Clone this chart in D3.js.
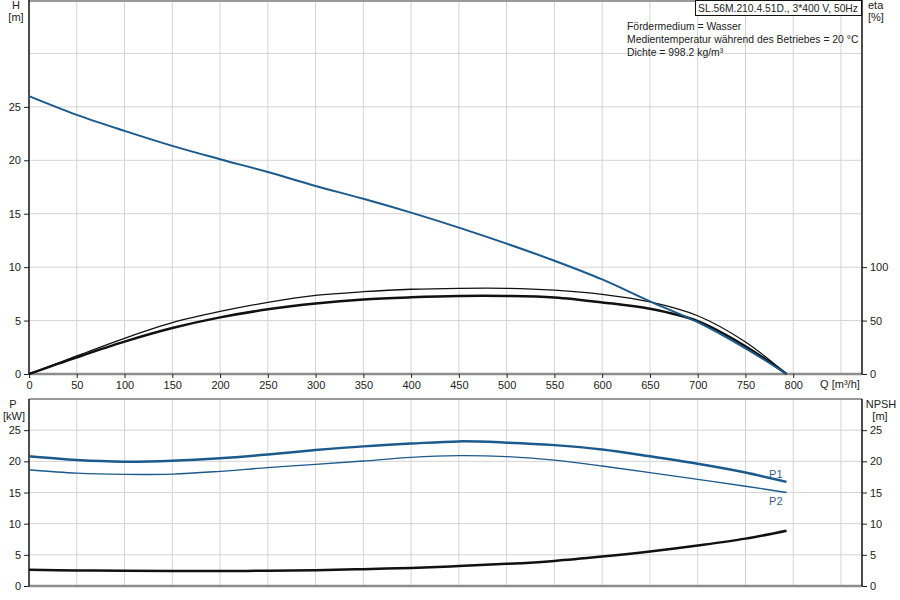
<!DOCTYPE html>
<html>
<head>
<meta charset="utf-8">
<script src="https://cdn.jsdelivr.net/npm/d3@7"></script>
<style>
  body { margin: 0; background: #fff; }
  svg { display: block; font-family: "Liberation Sans", Arial, sans-serif; }
  .grid line { stroke: #d4d4d4; stroke-width: 1; }
  .lbl { font-size: 11px; fill: #222; }
</style>
</head>
<body>
<svg id="chart"></svg>
<script>
// flow rate, m³/h
const flow = [0, 50, 100, 150, 200, 250, 300, 350, 400, 450, 500, 550, 600, 650, 700, 750, 793];
// head H [m]
const head = [26.0, 24.25, 22.75, 21.35, 20.1, 18.9, 17.6, 16.4, 15.1, 13.7, 12.2, 10.6, 8.85, 6.8, 4.85, 2.4, 0];
// efficiencies eta [%]
const etaPump = [0, 16.9, 33.4, 48, 58.5, 67, 73.5, 77, 79.3, 80.2, 80.2, 78.4, 74.5, 67.5, 54.5, 30, 0];
const etaTotal = [0, 15.6, 30.3, 43, 53, 60.5, 66, 69.8, 71.8, 73, 73, 71.6, 67, 61, 49.5, 26, 0];
// power P [kW]
const p1 = [20.8, 20.2, 19.95, 20.1, 20.5, 21.1, 21.8, 22.4, 22.85, 23.2, 23.0, 22.6, 21.9, 20.8, 19.6, 18.2, 16.7];
const p2 = [18.65, 18.1, 17.9, 17.95, 18.4, 19.0, 19.5, 20.05, 20.65, 20.9, 20.75, 20.2, 19.25, 18.2, 17.1, 16.0, 15.0];
// NPSH [m]
const npsh = [2.6, 2.5, 2.45, 2.42, 2.42, 2.44, 2.52, 2.7, 2.9, 3.2, 3.55, 4.03, 4.73, 5.54, 6.5, 7.6, 8.87];

const xTicks = [0, 50, 100, 150, 200, 250, 300, 350, 400, 450, 500, 550, 600, 650, 700, 750, 800];
const xGrid = [50, 100, 150, 200, 250, 300, 350, 400, 450, 500, 550, 600, 650, 700, 750, 800, 850];
const hTicks = [0, 5, 10, 15, 20, 25];
const etaTicks = [0, 50, 100];
const pTicks = [0, 5, 10, 15, 20, 25];

const infoLines = [
  "Fördermedium = Wasser",
  "Medientemperatur während des Betriebes = 20 °C",
  "Dichte = 998.2 kg/m³"
];
const title = "SL.56M.210.4.51D., 3*400 V, 50Hz";

const width = 900;
const height = 600;
const blue = "#1b5a8c";

const svg = d3.select("#chart").attr("width", width).attr("height", height);

const left = 29;
const right = 862;
const x = d3.scaleLinear().domain([0, 872]).range([left, right]);

const top1 = { top: 0, bottom: 374 };
const top2 = { top: 399, bottom: 586 };

const yH = d3.scaleLinear().domain([0, 35]).range([top1.bottom, top1.top]);
const yEta = d3.scaleLinear().domain([0, 350]).range([top1.bottom, top1.top]);
const yP = d3.scaleLinear().domain([0, 30]).range([top2.bottom, top2.top]);

const line = (ys, vals) =>
  d3.line()
    .x((d, i) => x(flow[i]))
    .y((d) => ys(d))
    .curve(d3.curveCatmullRom.alpha(0.5))(vals);

// ---- grids
const drawGrid = (box, yScale, yGrid) => {
  const g = svg.append("g").attr("class", "grid");
  g.selectAll(".gx")
    .data(xGrid)
    .join("line")
    .attr("x1", (d) => x(d))
    .attr("x2", (d) => x(d))
    .attr("y1", box.top)
    .attr("y2", box.bottom);
  g.selectAll(".gy")
    .data(yGrid)
    .join("line")
    .attr("x1", left)
    .attr("x2", right)
    .attr("y1", (d) => yScale(d))
    .attr("y2", (d) => yScale(d));
};
drawGrid(top1, yH, [5, 10, 15, 20, 25, 30]);
drawGrid(top2, yP, [5, 10, 15, 20, 25]);

// frame lines (top and bottom, gray)
[top1.top + 1, top2.top].forEach((yy) => {
  svg.append("line")
    .attr("x1", left).attr("x2", right)
    .attr("y1", yy).attr("y2", yy)
    .attr("stroke", "#9a9a9a").attr("stroke-width", 2);
});
[top1.bottom, top2.bottom].forEach((yy) => {
  svg.append("line")
    .attr("x1", left).attr("x2", right)
    .attr("y1", yy).attr("y2", yy)
    .attr("stroke", "#8c8c8c").attr("stroke-width", 2.5);
});

// ---- axes
const styleAxis = (g) => {
  g.select(".domain").remove();
  g.selectAll(".tick line").attr("stroke", "#222");
  g.selectAll(".tick text").attr("class", "lbl").attr("fill", "#222").style("font-size", "11px");
};

svg.append("g")
  .attr("transform", `translate(0,${top1.bottom})`)
  .call(d3.axisBottom(x).tickValues(xTicks).tickSize(4).tickPadding(3).tickFormat(d3.format("d")))
  .call(styleAxis);

svg.append("g")
  .attr("transform", `translate(${left},0)`)
  .call(d3.axisLeft(yH).tickValues(hTicks).tickSize(5).tickPadding(3))
  .call(styleAxis);

svg.append("g")
  .attr("transform", `translate(${right},0)`)
  .call(d3.axisRight(yEta).tickValues(etaTicks).tickSize(5).tickPadding(3))
  .call(styleAxis);

svg.append("g")
  .attr("transform", `translate(${left},0)`)
  .call(d3.axisLeft(yP).tickValues(pTicks).tickSize(5).tickPadding(3))
  .call(styleAxis);

svg.append("g")
  .attr("transform", `translate(${right},0)`)
  .call(d3.axisRight(yP).tickValues(pTicks).tickSize(5).tickPadding(3))
  .call(styleAxis);

// vertical axis lines
[left, right].forEach((xx) => {
  [top1, top2].forEach((b) => {
    svg.append("line")
      .attr("x1", xx).attr("x2", xx)
      .attr("y1", b.top).attr("y2", b.bottom)
      .attr("stroke", "#111").attr("stroke-width", 1.5);
  });
});

// ---- curves
const curves = [
  { vals: etaPump, ys: yEta, color: "#111", w: 1.3 },
  { vals: etaTotal, ys: yEta, color: "#111", w: 2.5 },
  { vals: head, ys: yH, color: blue, w: 2 },
  { vals: p2, ys: yP, color: blue, w: 1.3 },
  { vals: p1, ys: yP, color: blue, w: 2.5 },
  { vals: npsh, ys: yP, color: "#111", w: 2.5 }
];
svg.selectAll(".curve")
  .data(curves)
  .join("path")
  .attr("class", "curve")
  .attr("fill", "none")
  .attr("stroke", (d) => d.color)
  .attr("stroke-width", (d) => d.w)
  .attr("d", (d) => line(d.ys, d.vals));

// curve labels
const last = flow.length - 1;
svg.append("text").attr("class", "lbl")
  .attr("x", x(flow[last]) - 4).attr("y", yP(p1[last]) - 4)
  .attr("text-anchor", "end").style("fill", "#3a5f8a").text("P1");
svg.append("text").attr("class", "lbl")
  .attr("x", x(flow[last]) - 4).attr("y", yP(p2[last]) + 12)
  .attr("text-anchor", "end").style("fill", "#3a5f8a").text("P2");

// ---- axis titles
const addText = (t, xx, yy, anchor) =>
  svg.append("text").attr("class", "lbl")
    .attr("x", xx).attr("y", yy)
    .attr("text-anchor", anchor || "middle")
    .text(t);

addText("H", 16, 9);
addText("[m]", 16, 21);
addText("eta", 868, 9, "start");
addText("[%]", 868, 21, "start");
addText("P", 13, 408);
addText("[kW]", 14, 420);
addText("NPSH", 881, 408);
addText("[m]", 880, 420);

// x-axis unit replaces the 850 tick label
addText("Q [m³/h]", x(850) - 1, 388);

// ---- info block
const infoBox = svg.append("g");
infoBox.append("rect")
  .attr("x", 695.5).attr("y", 0.5).attr("width", 166).attr("height", 15)
  .attr("fill", "#fff").attr("stroke", "#111").attr("stroke-width", 1);
infoBox.append("text").attr("class", "lbl")
  .attr("x", 778).attr("y", 12).attr("text-anchor", "middle")
  .style("font-size", "10.3px")
  .text(title);

svg.selectAll(".info")
  .data(infoLines)
  .join("text")
  .attr("class", "lbl info")
  .attr("x", 627)
  .attr("y", (d, i) => 30 + i * 13)
  .style("font-size", "10.4px")
  .text((d) => d);
</script>
</body>
</html>
